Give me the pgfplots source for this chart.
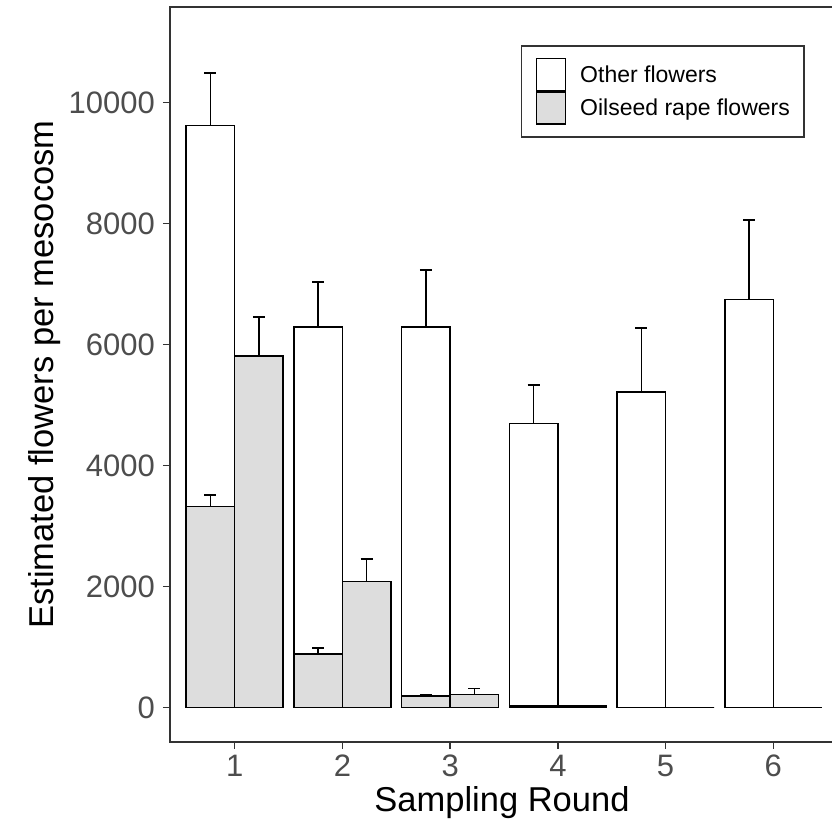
\documentclass[border=0pt]{standalone}
\usepackage{fontspec}
\setmainfont{Liberation Sans}
\usepackage{pgfplots}
\pgfplotsset{compat=1.18}
\definecolor{oilgrey}{RGB}{221,221,221}
\definecolor{grey30}{RGB}{77,77,77}
\definecolor{grey20}{RGB}{51,51,51}

\pgfplotstableread{
x      y     e
0.775  9618  866
1.775  6295  739
2.775  6295  938
3.775  4698  633
4.775  5211  1058
5.775  6748  1306
}\otherL

\pgfplotstableread{
x      y     e
0.775  3320  193
1.225  5811  640
1.775  884   95
2.225  2080  375
2.775  190   25
3.225  218   99
}\oilE

\pgfplotstableread{
x      y
3.775  30
4.225  30
4.775  0
5.225  0
5.775  0
6.225  0
}\oilN

\begin{document}
\begin{tikzpicture}
\useasboundingbox (0,0) rectangle (832bp,826bp);
\clip (0,0) rectangle (832bp,826bp);
\begin{axis}[
  at={(170bp,84bp)}, anchor=south west,
  scale only axis, width=668bp, height=735bp,
  xmin=0.4, xmax=6.6, ymin=-570, ymax=11580,
  axis line style={grey20, line width=1.6bp},
  xtick={1,2,3,4,5,6}, ytick={0,2000,4000,6000,8000,10000},
  scaled y ticks=false,
  xtick pos=bottom, ytick pos=left, tick align=outside,
  major tick length=7bp,
  tick style={grey20, line width=1.4bp},
  /pgf/number format/1000 sep={},
  /pgf/number format/assume math mode=true,
  ticklabel style={font=\fontsize{31bp}{36bp}\selectfont, text=grey30},
  yticklabel style={anchor=east, inner sep=0pt, xshift=-8bp},
  xticklabel style={anchor=north, inner sep=0pt, yshift=-6bp},
  xlabel={Sampling Round},
  ylabel={Estimated flowers per mesocosm},
  label style={font=\fontsize{34.5bp}{40bp}\selectfont, text=black},
  xlabel style={at={(axis description cs:0.497,-0.0952)}, anchor=base},
  ylabel style={at={(axis description cs:-0.1751,0.5)}, anchor=base},
  legend image code/.code={\draw[#1, line width=1.6bp] (0bp,-16bp) rectangle (29bp,16bp);},
  legend cell align=left,
  legend style={at={(axis description cs:0.5254,0.948)}, anchor=north west,
    draw=grey20, line width=1.3bp, fill=white,
    inner xsep=14bp, inner ysep=12bp,
    nodes={inner sep=0pt},
    font=\fontsize{23bp}{28bp}\selectfont,
    row sep=0pt,
    /tikz/every odd column/.append style={column sep=14bp}},
]
\addplot[ybar, bar width=0.45, bar shift=0, draw=black, fill=white, line width=1.6bp,
  error bars/.cd, y dir=plus, y explicit, error mark=-,
  error bar style={line width=1.6bp, black},
  error mark options={rotate=90, black, mark size=6bp, line width=1.6bp}]
  table[x=x, y=y, y error plus=e] {\otherL};
\addlegendentry{Other flowers}
\addplot[ybar, bar width=0.45, bar shift=0, draw=black, fill=oilgrey, line width=1.6bp,
  error bars/.cd, y dir=plus, y explicit, error mark=-,
  error bar style={line width=1.6bp, black},
  error mark options={rotate=90, black, mark size=6bp, line width=1.6bp}]
  table[x=x, y=y, y error plus=e] {\oilE};
\addlegendentry{Oilseed rape flowers}
\addplot[ybar, bar width=0.45, bar shift=0, draw=black, fill=oilgrey, line width=1.6bp, forget plot]
  table[x=x, y=y] {\oilN};
\end{axis}
\end{tikzpicture}
\end{document}
